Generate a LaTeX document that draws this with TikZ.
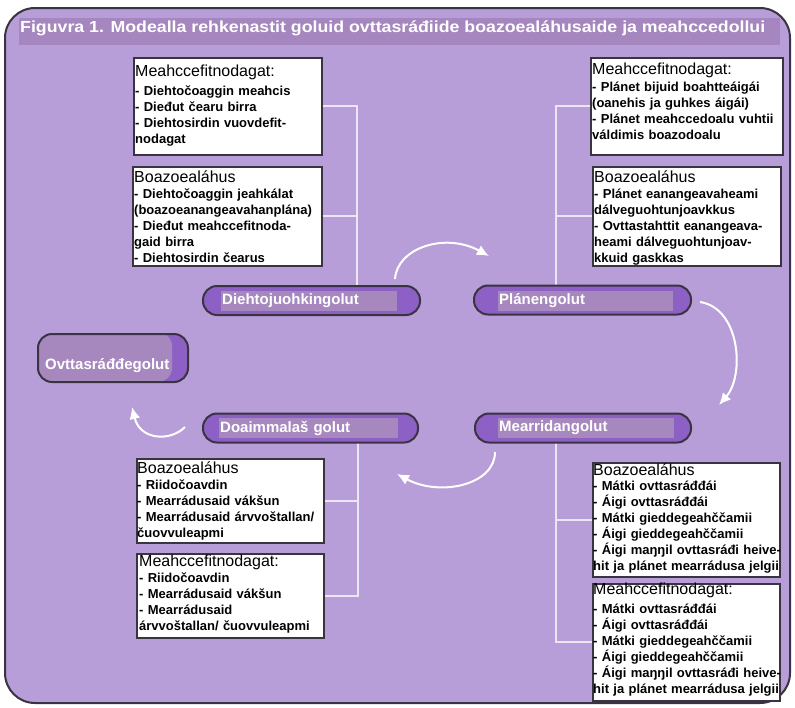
\documentclass[tikz,border=0pt]{standalone}
\usepackage{fontspec}
\setmainfont{Liberation Sans}
\usetikzlibrary{arrows.meta}
\definecolor{bgpurple}{HTML}{B89ED8}
\definecolor{titlebar}{HTML}{A586BE}
\definecolor{pilldark}{HTML}{8C60C4}
\definecolor{pilllight}{HTML}{A688BE}
\definecolor{edgec}{HTML}{3A3340}
\definecolor{linkc}{HTML}{ECE6F4}
\newcommand{\boxhead}[1]{{\mdseries\fontsize{16}{16}\selectfont #1}}
\tikzset{
  infobox/.style={draw=edgec, line width=1.5pt, fill=white, inner sep=0pt, anchor=north west},
  boxtext/.style={anchor=base west, inner sep=0pt, text width=200pt, align=left,
    font=\bfseries\fontsize{13}{16}\selectfont},
  pill/.style={draw=edgec, line width=2pt, fill=pilldark, rounded corners=14pt,
    inner sep=0pt, minimum height=29pt},
  pillin/.style={fill=pilllight, inner sep=1pt, minimum height=20pt, text=white,
    font=\bfseries\fontsize{15}{18}\selectfont, anchor=west, align=left},
  link/.style={draw=linkc, line width=2pt},
  flow/.style={draw=white, line width=2pt, -{Latex[length=12pt,width=11pt]}}
}
\begin{document}
\begin{tikzpicture}[x=1pt,y=-1pt]
\useasboundingbox (0,0) rectangle (795,707);
% frame
\draw[fill=bgpurple, draw=edgec, line width=2pt, rounded corners=30pt] (5,8) rectangle (790,703);
\fill[titlebar] (19,18) rectangle (780,45);
\node[anchor=base west, inner sep=0pt, text=white, font=\bfseries\fontsize{16}{18}\selectfont] (title) at (20,32.5)
  {\resizebox{745pt}{\height}{Figuvra 1. Modealla rehkenastit goluid ovttasráđiide boazoealáhusaide ja meahccedollui}};

% boxes
\node[infobox, minimum width=188pt, minimum height=97pt] (tl1) at (133,57) {};
\node[infobox, minimum width=189pt, minimum height=99pt] (tl2) at (132,166) {};
\node[infobox, minimum width=192pt, minimum height=97pt] (tr1) at (590,57) {};
\node[infobox, minimum width=188pt, minimum height=99pt] (tr2) at (592,166) {};
\node[infobox, minimum width=187pt, minimum height=84pt] (bl1) at (136,458) {};
\node[infobox, minimum width=187pt, minimum height=84pt] (bl2) at (136,553) {};
\node[infobox, minimum width=187pt, minimum height=114pt] (br1) at (592,462) {};
\node[infobox, minimum width=187pt, minimum height=117pt] (br2) at (592,583) {};

% connector junctions
\coordinate (j1) at (357,286);
\coordinate (j2) at (556,285);
\coordinate (j3) at (556,443);
\coordinate (j4) at (358,443);
\draw[link] (tl1.east) -| (j1);
\draw[link] (tl2.east) -- (tl2.east -| j1);
\draw[link] (tr1.west) -| (j2);
\draw[link] (tr2.west) -- (tr2.west -| j2);
\draw[link] (j3) |- (br2.west);
\draw[link] (br1.west -| j3) -- (br1.west);
\draw[link] (j4) |- (bl2.east);
\draw[link] (bl1.east) -- (bl1.east -| j4);

% box texts
\node[boxtext] (tl1t) at (135,76) {\boxhead{Meahccefitnodagat:}\\[3pt]
- Diehtočoaggin meahcis\\ - Dieđut čearu birra\\ - Diehtosirdin vuovdefit-\\ nodagat};
\node[boxtext] (tl2t) at (134,182) {\boxhead{Boazoealáhus}\\[0pt]
- Diehtočoaggin jeahkálat\\ (boazoeanangeavahanplána)\\ - Dieđut meahccefitnoda-\\ gaid birra\\ - Diehtosirdin čearus};
\node[boxtext] (tr1t) at (592,74) {\boxhead{Meahccefitnodagat:}\\[1pt]
- Plánet bijuid boahtteáigái\\ (oanehis ja guhkes áigái)\\ - Plánet meahccedoalu vuhtii\\ váldimis boazodoalu};
\node[boxtext] (tr2t) at (594,182) {\boxhead{Boazoealáhus}\\[0pt]
- Plánet eanangeavaheami\\ dálveguohtunjoavkkus\\ - Ovttastahttit eanangeava-\\ heami dálveguohtunjoav-\\ kkuid gaskkas};
\node[boxtext] (bl1t) at (137,473) {\boxhead{Boazoealáhus}\\[0pt]
- Riidočoavdin\\ - Mearrádusaid vákšun\\ - Mearrádusaid árvvoštallan/\\ čuovvuleapmi};
\node[boxtext] (bl2t) at (139,566) {\boxhead{Meahccefitnodagat:}\\[0pt]
- Riidočoavdin\\ - Mearrádusaid vákšun\\ - Mearrádusaid\\ árvvoštallan/ čuovvuleapmi};
\node[boxtext] (br1t) at (593,475) {\boxhead{Boazoealáhus}\\[-1pt]
- Mátki ovttasráđđái\\ - Áigi ovttasráđđái\\ - Mátki gieddegeahččamii\\ - Áigi gieddegeahččamii\\ - Áigi maŋŋil ovttasráđi heive-\\ hit ja plánet mearrádusa jelgii};
\node[boxtext] (br2t) at (593,594) {\boxhead{Meahccefitnodagat:}\\[3pt]
- Mátki ovttasráđđái\\ - Áigi ovttasráđđái\\ - Mátki gieddegeahččamii\\ - Áigi gieddegeahččamii\\ - Áigi maŋŋil ovttasráđi heive-\\ hit ja plánet mearrádusa jelgii};

% pills
\node[pill, minimum width=217pt] (p1) at (311.5,300.5) {};
\node[pillin, text width=174pt] (p1i) at (221,301) {Diehtojuohkingolut};
\node[pill, minimum width=217pt] (p2) at (582.5,300) {};
\node[pillin, text width=173pt] (p2i) at (498,301) {Plánengolut};
\node[pill, minimum width=216pt] (p3) at (583,428) {};
\node[pillin, text width=174pt] (p3i) at (498,428) {Mearridangolut};
\node[pill, minimum width=215pt] (p4) at (310.5,428) {};
\node[pillin, text width=177pt] (p4i) at (219,428) {Doaimmalaš golut};
\node[pill, minimum width=150pt, minimum height=48pt,
  path picture={\fill[pilllight] ([xshift=-2pt]path picture bounding box.south west) rectangle ([xshift=-16pt,yshift=2pt]path picture bounding box.north east);}] (p0) at (113,358) {};
\node[anchor=base west, inner sep=0pt, text=white, font=\bfseries\fontsize{15}{18}\selectfont] (p0t) at (45,369) {Ovttasráđđegolut};

% flow arrows
\coordinate (a1s) at (395,279);
\coordinate (a1e) at (489,256);
\coordinate (a2s) at (700,302);
\coordinate (a2e) at (719,405);
\coordinate (a3s) at (495,452);
\coordinate (a3e) at (397,474);
\coordinate (a4s) at (185,427);
\coordinate (a4e) at (132,407);
\draw[flow] (a1s) .. controls (397,248) and (445,232) .. (a1e);
\draw[flow] (a2s) .. controls (740,308) and (745,375) .. (a2e);
\draw[flow] (a3s) .. controls (495,485) and (440,497) .. (a3e);
\draw[flow] (a4s) .. controls (170,442) and (140,440) .. (a4e);
\end{tikzpicture}
\end{document}
